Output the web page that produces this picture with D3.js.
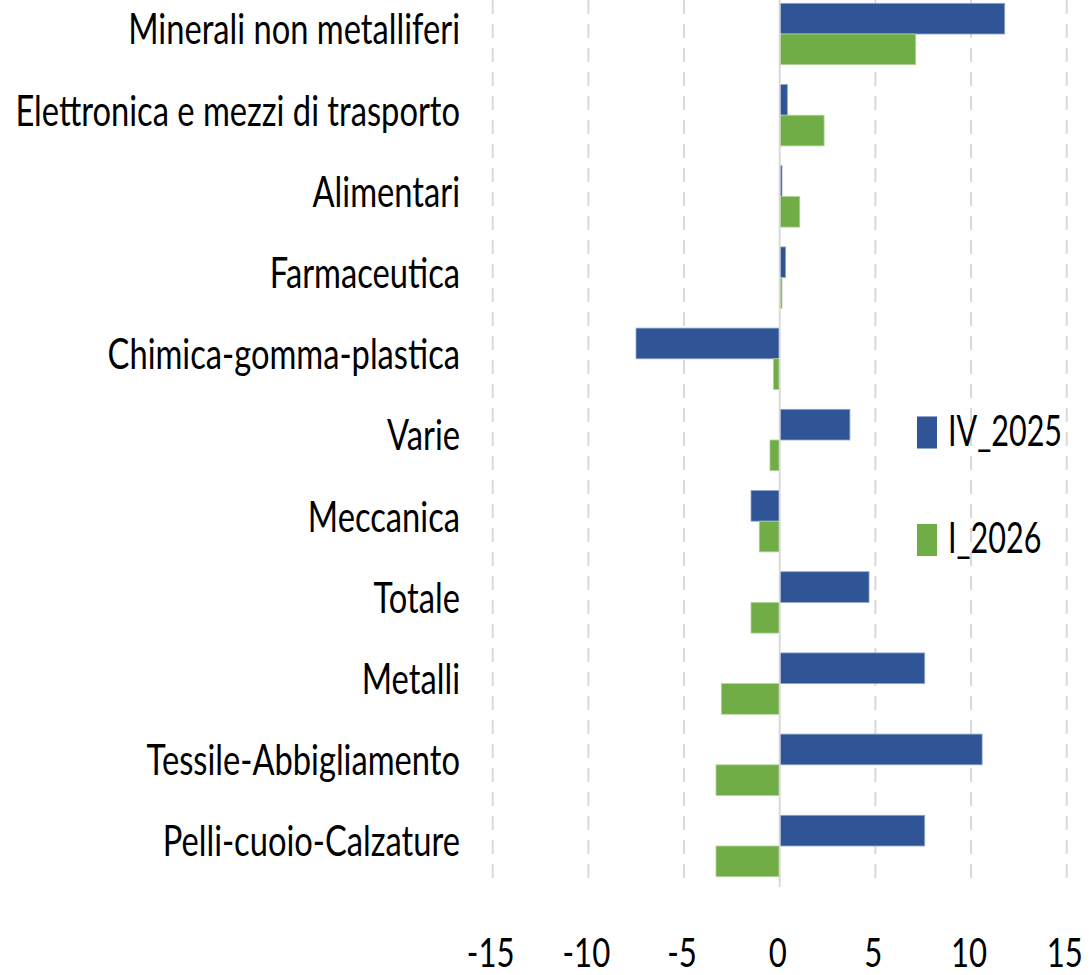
<!DOCTYPE html>
<html>
<head>
<meta charset="utf-8">
<script src="https://cdn.jsdelivr.net/npm/d3@7"></script>
<style>
  html, body { margin: 0; padding: 0; background: #fff; }
  svg { display: block; }
  text { font-family: Lato, "Open Sans", "Liberation Sans", sans-serif; fill: #000; }
</style>
</head>
<body>
<svg id="chart" width="1091" height="975"></svg>
<script>
const categories = [
  "Minerali non metalliferi",
  "Elettronica e mezzi di trasporto",
  "Alimentari",
  "Farmaceutica",
  "Chimica-gomma-plastica",
  "Varie",
  "Meccanica",
  "Totale",
  "Metalli",
  "Tessile-Abbigliamento",
  "Pelli-cuoio-Calzature"
];
const seriesNames = ["IV_2025", "I_2026"];
const iv2025 = [11.76, 0.40, 0.12, 0.31, -7.51, 3.67, -1.50, 4.67, 7.58, 10.58, 7.58];
const i2026  = [7.11, 2.32, 1.05, 0.12, -0.33, -0.51, -1.07, -1.50, -3.05, -3.33, -3.33];
const xTicks = [-15, -10, -5, 0, 5, 10, 15];
const colors = ["#2F5597", "#70AD47"];

const svg = d3.select("#chart");
const fontSize = 43;
const condense = 0.76;

const x = d3.scaleLinear().domain([-15, 15]).range([492.7, 1066.7]);
const y = d3.scaleBand().domain(categories).range([-6.6, 886.6])
  .paddingInner(0.244).paddingOuter(0.122);
const ySub = d3.scaleBand().domain(seriesNames).range([0, y.bandwidth()]).padding(0);

// gridlines
const grid = svg.append("g");
grid.selectAll("line.grid").data(xTicks.filter(d => d !== 0)).join("line")
  .attr("x1", d => x(d)).attr("x2", d => x(d))
  .attr("y1", 0).attr("y2", 887)
  .attr("stroke", "#d9d9d9").attr("stroke-width", 2)
  .attr("stroke-dasharray", "14,10");

// bars
const rows = categories.map((c, i) => ({ c, vals: [iv2025[i], i2026[i]] }));
const groups = svg.append("g").selectAll("g").data(rows).join("g")
  .attr("transform", d => `translate(0,${y(d.c)})`);
groups.selectAll("rect").data(d => d.vals.map((v, k) => ({ v, k })))
  .join("rect")
  .attr("x", d => Math.min(x(0), x(d.v)))
  .attr("width", d => Math.abs(x(d.v) - x(0)))
  .attr("y", d => ySub(seriesNames[d.k]))
  .attr("height", ySub.bandwidth())
  .attr("fill", d => colors[d.k])
  .attr("stroke", d => d.k === 0 ? "#8fa6cf" : "#b3d49c")
  .attr("stroke-width", 0.8);

// zero line
svg.append("line")
  .attr("x1", x(0)).attr("x2", x(0)).attr("y1", 0).attr("y2", 887)
  .attr("stroke", "#d9d9d9").attr("stroke-width", 2);

function condenseText(sel, f) {
  sel.each(function () {
    const w = this.getComputedTextLength();
    d3.select(this).attr("textLength", w * (f || condense)).attr("lengthAdjust", "spacingAndGlyphs");
  });
}

// category labels
svg.append("g").selectAll("text").data(categories).join("text")
  .attr("x", 460)
  .attr("y", d => y(d) + y.bandwidth() / 2 - 5)
  .attr("text-anchor", "end")
  .attr("dy", "0.36em")
  .attr("font-size", fontSize)
  .text(d => d)
  .call(condenseText);

// x axis tick labels
svg.append("g").selectAll("text").data(xTicks).join("text")
  .attr("x", d => x(d) - 2)
  .attr("y", 967)
  .attr("text-anchor", "middle")
  .attr("font-size", 41)
  .text(d => d)
  .call(condenseText);

// legend
const legend = svg.append("g");
const legY = [432.5, 540];
seriesNames.forEach((name, k) => {
  legend.append("rect")
    .attr("x", 917).attr("y", legY[k] - 16)
    .attr("width", 20).attr("height", 32)
    .attr("fill", colors[k]);
  legend.append("text")
    .attr("x", 948).attr("y", legY[k] - 2)
    .attr("dy", "0.36em")
    .attr("font-size", fontSize)
    .text(name)
    .call(condenseText, 0.71);
});
</script>
</body>
</html>
